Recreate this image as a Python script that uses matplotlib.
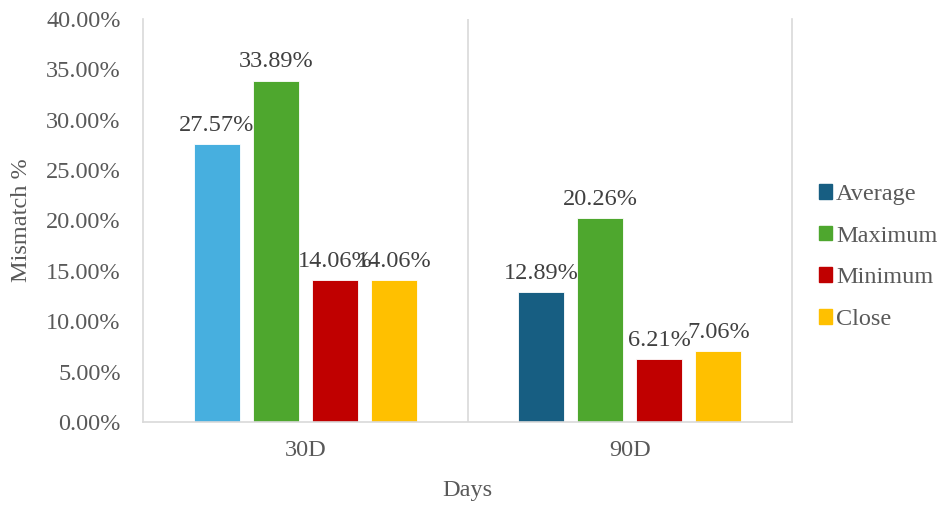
import numpy as np
import matplotlib.pyplot as plt
from matplotlib.patches import Patch

plt.rcParams['font.family'] = ['Liberation Serif', 'DejaVu Serif']

# Данные
categories = ['30D', '90D']
series = ['Average', 'Maximum', 'Minimum', 'Close']
average = [27.57, 12.89]
maximum = [33.89, 20.26]
minimum = [14.06, 6.21]
close = [14.06, 7.06]
values = [average, maximum, minimum, close]

colors = ['#175E82', '#4EA72E', '#C00000', '#FFC000']
avg_colors = ['#47AFDF', '#175E82']
text_color = '#595959'
grid_color = '#D9D9D9'
fs = 17.5

fig = plt.figure(figsize=(9.39, 5.07), dpi=100)
ax = fig.add_axes([0.1523, 0.1677, 0.6912, 0.7949])

x = np.arange(len(categories))
width = 0.142
step = 0.182

for i, (name, vals) in enumerate(zip(series, values)):
    pos = x + (i - 1.5) * step
    col = avg_colors if i == 0 else colors[i]
    bars = ax.bar(pos, vals, width, color=col, edgecolor='white', linewidth=0.6)
    for b, v in zip(bars, vals):
        ax.annotate(f'{v:.2f}%', (b.get_x() + b.get_width() / 2, v),
                    xytext=(0, 6), textcoords='offset points',
                    ha='center', va='bottom', fontsize=fs, color='#404040')

ax.set_xlim(-0.5, 1.5)
ax.set_ylim(0, 40)
ax.set_yticks(np.arange(0, 41, 5))
ax.set_yticklabels([f'{t:.2f}%' for t in np.arange(0, 41, 5)])
ax.set_xticks(x)
ax.set_xticklabels(categories)
ax.tick_params(axis='both', length=0, labelsize=fs, colors=text_color)
ax.tick_params(axis='y', pad=16)
ax.tick_params(axis='x', pad=13)

# вертикальные разделители категорий
ax.axvline(0.5, color=grid_color, linewidth=1.2)
for s in ['left', 'right', 'bottom']:
    ax.spines[s].set_color(grid_color)
    ax.spines[s].set_linewidth(1.2)
ax.spines['top'].set_visible(False)

ax.set_xlabel('Days', fontsize=fs, color=text_color, labelpad=14)
ax.set_ylabel('Mismatch %', fontsize=fs, color=text_color, labelpad=10)

handles = [Patch(color=c, label=n) for c, n in zip(colors, series)]
fig.legend(handles=handles, loc='center left', bbox_to_anchor=(0.849, 0.493),
           frameon=False, fontsize=fs, labelcolor=text_color,
           handlelength=0.55, handleheight=0.55, handletextpad=0.15,
           labelspacing=0.85)

fig.savefig('out.png', dpi=100)
